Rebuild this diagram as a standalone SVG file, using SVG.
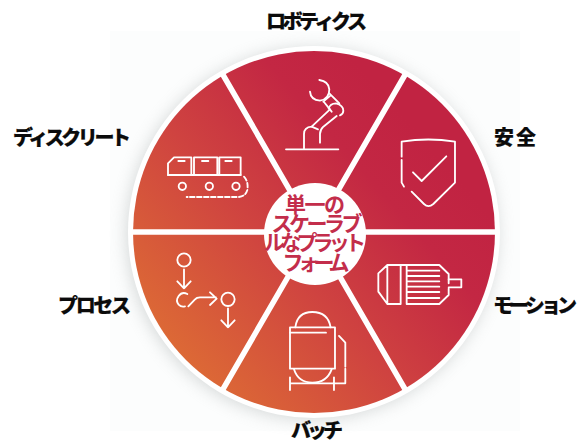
<svg xmlns="http://www.w3.org/2000/svg" width="578" height="441" viewBox="0 0 578 441">
<style>
.lb{font-family:"Noto Sans CJK JP","Liberation Sans",sans-serif;font-weight:900;font-size:20px;fill:#0b0b0b;stroke:#0b0b0b;stroke-width:.2}
.ct{font-family:"Noto Sans CJK JP","Liberation Sans",sans-serif;font-weight:700;font-size:21px;fill:#c32d4b;text-anchor:middle}
.sp{stroke:#fff;stroke-width:5.500;fill:none}
.ic{fill:none;stroke:#fff;stroke-width:5.500;stroke-linecap:round;stroke-linejoin:round}
</style>
<defs>
<linearGradient id="g" gradientUnits="userSpaceOnUse" x1="170" y1="355" x2="420" y2="135">
<stop offset="0" stop-color="#dd6b35"/><stop offset=".45" stop-color="#cf4340"/><stop offset=".8" stop-color="#c32743"/><stop offset="1" stop-color="#c12342"/>
</linearGradient>
<filter id="b" x="-20%" y="-20%" width="140%" height="140%"><feGaussianBlur stdDeviation="8"/></filter>
</defs>
<rect width="578" height="441" fill="#fff"/>
<rect x="110" y="31" width="410" height="400" fill="#fcfdfd"/>
<circle cx="312" cy="234" r="186" fill="#a8aeae" opacity=".45" filter="url(#b)"/>
<circle cx="314" cy="232" r="186" fill="#fff"/>
<circle cx="314" cy="232" r="181" fill="url(#g)"/>
<g id="connectors">
<path class="sp" d="M131 232H497M222.500 74 405.500 390M405.500 74 222.500 390"/>
</g>
<circle id="hub-disc" cx="315" cy="234" r="51" fill="#fff"/>
<g id="hub">
<text class="ct" x="315" y="212" textLength="60" lengthAdjust="spacing">単一の</text>
<text class="ct" x="317" y="231" textLength="91" lengthAdjust="spacing">スケーラブ</text>
<text class="ct" x="315" y="250" textLength="102" lengthAdjust="spacing">ルなプラット</text>
<text class="ct" x="316" y="270" textLength="67" lengthAdjust="spacing">フォーム</text>
</g>
<g id="robotics">
<g transform="translate(280 70) scale(.3333)" class="ic">
<path d="M18 238H175M72 235V192Q72 172 95 170L150 118M120 218V192Q120 180 130 170L170 138"/>
<path d="M118 30Q146 34 148 58Q148 88 120 92Q92 90 90 65"/>
<path d="M130 95 152 76M148 70 178 100M132 96 155 125M95 170 114 178"/>
<path d="M146 116Q150 100 168 100Q190 106 190 122Q190 132 180 136"/>
</g>
<text class="lb" x="266" y="29" textLength="101" lengthAdjust="spacing">ロボティクス</text>
</g>
<g id="safety">
<g transform="translate(260 60) scale(.3333)" class="ic">
<path d="M425 290V245Q505 232 585 245V368L520 432Q505 445 492 432L455 395M432 380 425 368V300"/>
<path d="M459 337 485 363 559 289"/>
</g>
<text class="lb" x="494" y="145" textLength="42" lengthAdjust="spacing">安全</text>
</g>
<g id="motion">
<g transform="translate(360 240) scale(.3333)" class="ic">
<path d="M122 75H238L266 102V130M122 75H82L55 100V155L82 192H122V75M82 75V192M140 192H238L266 165V146"/>
<path d="M140 92H238M140 108H238M140 124H238M140 140H238M140 156H238M140 174H238M140 76V190"/>
<path d="M266 118H304V142H266"/>
</g>
<text class="lb" x="493" y="313" textLength="84" lengthAdjust="spacing">モーション</text>
</g>
<g id="batch">
<g transform="translate(150 240) scale(.3333)" class="ic">
<rect x="420" y="262" width="135" height="124"/>
<path d="M436 262Q442 216 487 216Q534 216 542 262M432 388Q445 428 487 428Q530 428 545 388"/>
<path d="M420 278H528M567 288 586 308V380M420 430H586V386M420 412V450M552 412V450"/>
</g>
<text class="lb" x="291" y="438" textLength="52" lengthAdjust="spacing">バッチ</text>
</g>
<g id="process">
<g transform="translate(150 240) scale(.3333)" class="ic">
<circle cx="102" cy="60" r="20"/>
<path d="M102 88V145M82 124 102 145 122 124"/>
<path d="M112 162Q96 154 86 168Q76 182 86 194Q94 202 105 199"/>
<path d="M115 199 135 178Q140 172 150 172H198M180 157 200 176 180 195"/>
<circle cx="234" cy="178" r="20"/>
<path d="M234 205V262M214 241 234 262 254 241"/>
</g>
<text class="lb" x="58" y="313" textLength="73" lengthAdjust="spacing">プロセス</text>
</g>
<g id="discrete">
<g transform="translate(140 130) scale(.3333)" class="ic">
<path d="M84 135V100L102 82H154V135ZM162 82H232V135H162ZM238 82H302V135H238Z"/>
<path d="M84 135H302"/>
<path d="M115 93H134M186 93H205M256 93H275"/>
<circle cx="127" cy="169" r="11"/><circle cx="208" cy="169" r="11"/><circle cx="288" cy="169" r="11"/>
<path d="M312 140Q326 155 322 180Q316 200 296 201H140" stroke-dasharray="14 7"/>
</g>
<text class="lb" x="13" y="145" textLength="118" lengthAdjust="spacing">ディスクリート</text>
</g>
</svg>
